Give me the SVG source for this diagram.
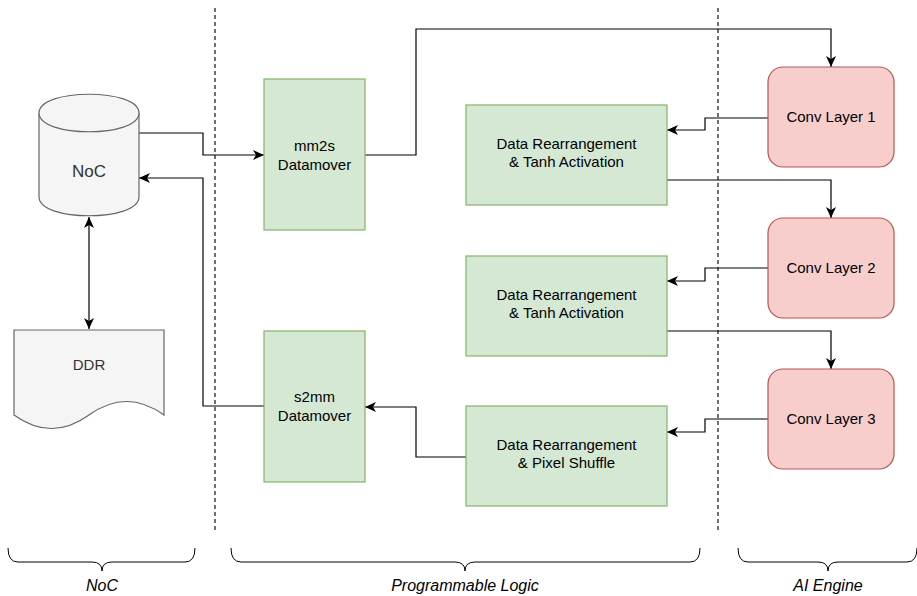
<svg xmlns="http://www.w3.org/2000/svg" width="917" height="596" viewBox="0 0 917 596">
<style>
text{font-family:"Liberation Sans",Arial,sans-serif;font-size:15px;fill:#000;text-anchor:middle}
.g{fill:#d5e8d4;stroke:#82b366;stroke-width:1.2}
.r{fill:#f8cecc;stroke:#b85450;stroke-width:1.2}
.gr{fill:#f5f5f5;stroke:#666666;stroke-width:1.2}
.c{fill:none;stroke:#000;stroke-width:1.2}
.d{fill:none;stroke:#222;stroke-width:1.3;stroke-dasharray:4 3}
.b{fill:none;stroke:#000;stroke-width:1}
.lab{font-style:italic;font-size:16px}
.gt{fill:#333}
</style>
<defs>
<marker id="a" markerUnits="userSpaceOnUse" markerWidth="12" markerHeight="12" refX="11" refY="5" orient="auto">
<path d="M0,0 L11,5 L0,10 L3,5 Z" fill="#000"/>
</marker>
<marker id="as" markerUnits="userSpaceOnUse" markerWidth="12" markerHeight="12" refX="0" refY="5" orient="auto">
<path d="M11,0 L0,5 L11,10 L8,5 Z" fill="#000"/>
</marker>
</defs>

<g id="separators">
<line class="d" x1="215" y1="8" x2="215" y2="532"/>
<line class="d" x1="718" y1="8" x2="718" y2="532"/>
</g>

<g id="connectors">
<polyline class="c" points="139,133 203,133 203,155 264,155" marker-end="url(#a)"/>
<polyline class="c" points="264,406 203,406 203,178 139,178" marker-end="url(#a)"/>
<line class="c" x1="89" y1="217" x2="89" y2="329" marker-start="url(#as)" marker-end="url(#a)"/>
<polyline class="c" points="365,155 416,155 416,29 831,29 831,67" marker-end="url(#a)"/>
<polyline class="c" points="768,118 705,118 705,130 667,130" marker-end="url(#a)"/>
<polyline class="c" points="667,180 831,180 831,218" marker-end="url(#a)"/>
<polyline class="c" points="768,268 705,268 705,281 667,281" marker-end="url(#a)"/>
<polyline class="c" points="667,331 831,331 831,369" marker-end="url(#a)"/>
<polyline class="c" points="768,419 705,419 705,432 667,432" marker-end="url(#a)"/>
<polyline class="c" points="466,457 416,457 416,407 365,407" marker-end="url(#a)"/>
</g>

<g id="noc">
<path class="gr" d="M39,113 C39,88 139,88 139,113 L139,197 C139,222 39,222 39,197 Z"/>
<path class="gr" d="M39,113 C39,138 139,138 139,113" fill="none"/>
<text class="gt" x="89" y="177" style="font-size:17px">NoC</text>
</g>

<g id="ddr">
<path class="gr" d="M14,330 H164 V415 Q126.5,388 89,415 Q51.5,442 14,415 Z"/>
<text class="gt" x="89" y="370">DDR</text>
</g>

<g id="mm2s">
<rect class="g" x="264" y="79" width="101" height="151"/>
<text x="314.5" y="151">mm2s</text>
<text x="314.5" y="170">Datamover</text>
</g>

<g id="s2mm">
<rect class="g" x="264" y="331" width="101" height="151"/>
<text x="314.5" y="402">s2mm</text>
<text x="314.5" y="421">Datamover</text>
</g>

<g id="dr1">
<rect class="g" x="466" y="105" width="201" height="100"/>
<text x="566.5" y="149">Data Rearrangement</text>
<text x="566.5" y="167">&amp; Tanh Activation</text>
</g>

<g id="dr2">
<rect class="g" x="466" y="256" width="201" height="100"/>
<text x="566.5" y="300">Data Rearrangement</text>
<text x="566.5" y="318">&amp; Tanh Activation</text>
</g>

<g id="dr3">
<rect class="g" x="466" y="406" width="201" height="100"/>
<text x="566.5" y="450">Data Rearrangement</text>
<text x="566.5" y="468">&amp; Pixel Shuffle</text>
</g>

<g id="conv1">
<rect class="r" x="768" y="67" width="126" height="100" rx="15" ry="15"/>
<text x="831" y="122">Conv Layer 1</text>
</g>

<g id="conv2">
<rect class="r" x="768" y="218" width="126" height="100" rx="15" ry="15"/>
<text x="831" y="273">Conv Layer 2</text>
</g>

<g id="conv3">
<rect class="r" x="768" y="369" width="126" height="100" rx="15" ry="15"/>
<text x="831" y="424">Conv Layer 3</text>
</g>

<g id="brace-noc">
<path class="b" d="M8,548 Q8,562 18,562 L92,562 Q102,562 102,571 Q102,562 112,562 L185,562 Q195,562 195,548"/>
<text class="lab" x="102" y="591">NoC</text>
</g>

<g id="brace-pl">
<path class="b" d="M231,548 Q231,562 241,562 L455,562 Q465,562 465,571 Q465,562 475,562 L690,562 Q700,562 700,548"/>
<text class="lab" x="465" y="591">Programmable Logic</text>
</g>

<g id="brace-ai">
<path class="b" d="M738,548 Q738,562 748,562 L818,562 Q828,562 828,571 Q828,562 838,562 L907,562 Q917,562 917,548"/>
<text class="lab" x="828" y="591">AI Engine</text>
</g>
</svg>
